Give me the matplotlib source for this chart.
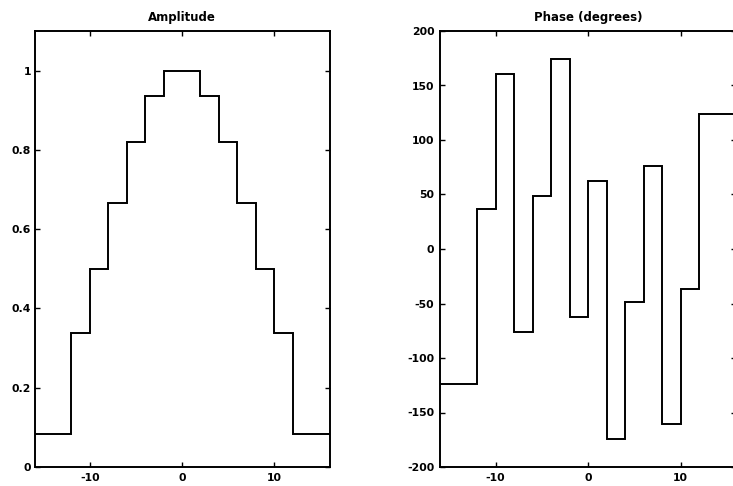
import matplotlib
matplotlib.use("Agg")
import matplotlib.pyplot as plt

plt.rcParams['axes.unicode_minus'] = False
plt.rcParams['font.family'] = ['DejaVu Sans']

# Data
edges = [-16, -12, -10, -8, -6, -4, -2, 0, 2, 4, 6, 8, 10, 12, 16]
amplitude = [0.083, 0.337, 0.5, 0.667, 0.82, 0.937, 1.0,
             1.0, 0.937, 0.82, 0.667, 0.5, 0.337, 0.083]
phase = [-124, 37, 161, -76, 49, 174, -62,
         62, -174, -49, 76, -161, -37, 124]

amp_yticks = [0, 0.2, 0.4, 0.6, 0.8, 1]
amp_yticklabels = ["0", "0.2", "0.4", "0.6", "0.8", "1"]
phase_yticks = [-200, -150, -100, -50, 0, 50, 100, 150, 200]
xticks = [-10, 0, 10]

fig = plt.figure(figsize=(7.33, 4.86), dpi=100)
W, H = 733, 486

def axes_px(x0, x1, y0, y1):
    return fig.add_axes([x0 / W, 1 - y1 / H, (x1 - x0) / W, (y1 - y0) / H])

ax1 = axes_px(34.5, 329.5, 31, 467)
ax2 = axes_px(440, 736, 31, 467)

fs = 7.8
tfs = 8.5

ax1.stairs(amplitude, edges, baseline=None, color='black', linewidth=1.4)
ax1.set_ylim(0, 1.1)
ax1.set_yticks(amp_yticks)
ax1.set_yticklabels(amp_yticklabels)
ax1.set_title("Amplitude", fontsize=tfs, fontweight='bold', pad=7)

ax2.stairs(phase, edges, baseline=None, color='black', linewidth=1.4)
ax2.set_ylim(-200, 200)
ax2.set_yticks(phase_yticks)
ax2.set_yticklabels([str(t) for t in phase_yticks])
ax2.set_title("Phase (degrees)", fontsize=tfs, fontweight='bold', pad=7)

for ax in (ax1, ax2):
    ax.set_xlim(-16, 16)
    ax.set_xticks(xticks)
    ax.set_xticklabels([str(t) for t in xticks])
    ax.tick_params(direction='in', length=3.5, width=1, top=True, right=True,
                   labelsize=fs, pad=4, colors='black')
    for s in ax.spines.values():
        s.set_linewidth(1.4)
    for lab in ax.get_xticklabels() + ax.get_yticklabels():
        lab.set_fontweight('bold')

ax1.tick_params(axis='y', pad=2.5)

fig.savefig("out.png", dpi=100)
